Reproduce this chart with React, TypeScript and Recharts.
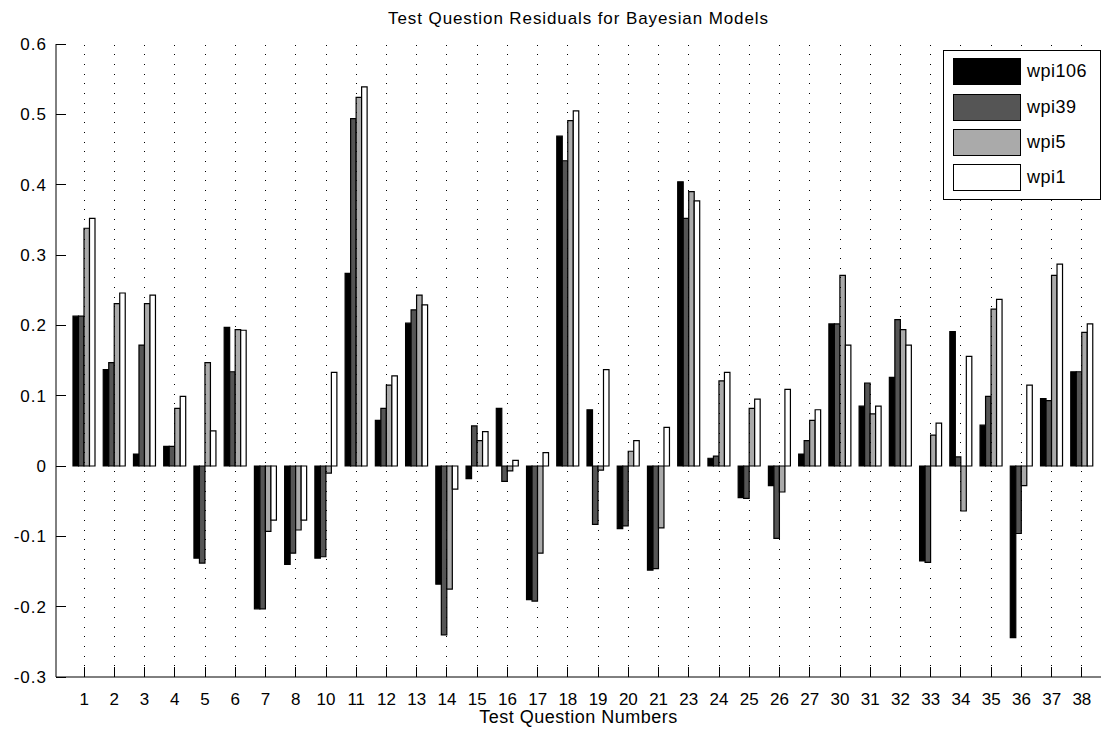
import { BarChart, Bar, XAxis, YAxis, Legend } from 'recharts';

const categories = ['1', '2', '3', '4', '5', '6', '7', '8', '10', '11', '12', '13', '14', '15', '16', '17', '18', '19', '20', '21', '23', '24', '25', '26', '27', '30', '31', '32', '33', '34', '35', '36', '37', '38'];

const wpi106 = [0.213, 0.137, 0.017, 0.028, -0.131, 0.197, -0.203, -0.140, -0.131, 0.274, 0.065, 0.203, -0.168, -0.018, 0.082, -0.190, 0.469, 0.080, -0.089, -0.148, 0.404, 0.011, -0.045, -0.028, 0.017, 0.202, 0.085, 0.126, -0.135, 0.191, 0.058, -0.244, 0.096, 0.134];
const wpi39 = [0.213, 0.147, 0.172, 0.028, -0.138, 0.134, -0.203, -0.124, -0.129, 0.494, 0.082, 0.222, -0.240, 0.057, -0.022, -0.192, 0.434, -0.083, -0.085, -0.146, 0.352, 0.014, -0.046, -0.103, 0.036, 0.202, 0.118, 0.208, -0.137, 0.013, 0.099, -0.096, 0.093, 0.134];
const wpi5 = [0.338, 0.231, 0.231, 0.082, 0.147, 0.194, -0.093, -0.091, -0.010, 0.524, 0.115, 0.243, -0.175, 0.036, -0.007, -0.124, 0.491, -0.006, 0.021, -0.088, 0.390, 0.121, 0.082, -0.037, 0.065, 0.271, 0.074, 0.194, 0.044, -0.064, 0.223, -0.028, 0.271, 0.190];
const wpi1 = [0.352, 0.246, 0.243, 0.099, 0.050, 0.193, -0.077, -0.077, 0.133, 0.539, 0.128, 0.229, -0.033, 0.049, 0.008, 0.019, 0.505, 0.137, 0.036, 0.055, 0.377, 0.133, 0.095, 0.109, 0.080, 0.172, 0.085, 0.172, 0.061, 0.156, 0.237, 0.115, 0.287, 0.202];

const yTicks = [-0.3, -0.2, -0.1, 0, 0.1, 0.2, 0.3, 0.4, 0.5, 0.6];

const series = [
  { key: 'wpi106', fill: '#000000' },
  { key: 'wpi39', fill: '#555555' },
  { key: 'wpi5', fill: '#aaaaaa' },
  { key: 'wpi1', fill: '#ffffff' },
];

const data = categories.map((q, i) => ({
  q,
  wpi106: wpi106[i],
  wpi39: wpi39[i],
  wpi5: wpi5[i],
  wpi1: wpi1[i],
}));

const FONT = '"Liberation Sans", Arial, Helvetica, sans-serif';
const W = 1106;
const H = 734;
const TOP = 44;
const XAXIS_H = 57;
const PLOT_H = H - TOP - XAXIS_H;
const TICK_LEN = 10;
const X_MARGIN = 16;
const Y_MARGIN = 9;

const fmt = (v: number) => (v === 0 ? '0' : v.toFixed(1));

// bottom tick: label, inward tick and the dotted vertical grid line
const BottomTick = ({ x, y, payload }: any) => {
  const axisY = y - X_MARGIN;
  return (
    <g>
      <line x1={x} x2={x} y1={axisY - 1} y2={axisY - PLOT_H} stroke="#000" strokeDasharray="1 8.7" shapeRendering="crispEdges" />
      <line x1={x} x2={x} y1={axisY} y2={axisY - TICK_LEN} stroke="#000" shapeRendering="crispEdges" />
      <text x={x} y={y} dy="0.72em" textAnchor="middle" fontSize={17} fill="#000">
        {payload.value}
      </text>
    </g>
  );
};

const TopTick = ({ x, y }: any) => (
  <line x1={x} x2={x} y1={y} y2={y + TICK_LEN} stroke="#000" shapeRendering="crispEdges" />
);

const LeftTick = ({ x, y, payload }: any) => (
  <g>
    <line x1={x + Y_MARGIN} x2={x + Y_MARGIN + TICK_LEN} y1={y} y2={y} stroke="#000" shapeRendering="crispEdges" />
    <text x={x} y={y} dy="0.36em" textAnchor="end" fontSize={17} letterSpacing={1} fill="#000">
      {fmt(payload.value)}
    </text>
  </g>
);

const RightTick = ({ x, y }: any) => (
  <line x1={x} x2={x - TICK_LEN} y1={y} y2={y} stroke="#000" shapeRendering="crispEdges" />
);

// legend drawn in series order
const LegendBox = () => (
  <div
    style={{
      boxSizing: 'border-box',
      width: 158,
      height: 150,
      border: '1px solid #000',
      background: '#fff',
      paddingTop: 3,
      fontFamily: FONT,
    }}
  >
    {series.map((s) => (
      <div key={s.key} style={{ display: 'flex', alignItems: 'center', height: 35.4, marginLeft: 9 }}>
        <div style={{ boxSizing: 'border-box', width: 68, height: 27, border: '1px solid #000', background: s.fill }} />
        <span style={{ marginLeft: 6, fontSize: 18, letterSpacing: 0.5, color: '#000' }}>{s.key}</span>
      </div>
    ))}
  </div>
);

export default function App() {
  return (
    <div style={{ position: 'absolute', left: 0, top: 0, width: W, height: H, background: '#fff', fontFamily: FONT }}>
      <div
        style={{
          position: 'absolute',
          left: 56,
          top: 9,
          width: 1045,
          textAlign: 'center',
          fontSize: 17,
          letterSpacing: 0.9,
          lineHeight: '20px',
          color: '#000',
        }}
      >
        Test Question Residuals for Bayesian Models
      </div>
      <BarChart
        width={W}
        height={H}
        data={data}
        margin={{ top: TOP, right: 5, left: 0, bottom: 0 }}
        barCategoryGap={4}
        barGap={0}
        barSize={5.5}
        style={{ fontFamily: FONT }}
      >
        <XAxis
          dataKey="q"
          height={XAXIS_H}
          padding={{ left: 13, right: 4 }}
          axisLine={{ stroke: '#000' }}
          tickLine={false}
          tickSize={0}
          tickMargin={X_MARGIN}
          tick={<BottomTick />}
          interval={0}
          label={{ value: 'Test Question Numbers', position: 'insideBottom', offset: 11, fill: '#000', fontSize: 18, letterSpacing: 0.5 }}
        />
        <XAxis
          xAxisId="top"
          dataKey="q"
          orientation="top"
          height={0}
          padding={{ left: 13, right: 4 }}
          axisLine={{ stroke: '#000' }}
          tickLine={false}
          tickSize={0}
          tickMargin={0}
          tick={<TopTick />}
          interval={0}
        />
        <YAxis
          width={56}
          domain={[-0.3, 0.6]}
          ticks={yTicks}
          allowDataOverflow
          axisLine={{ stroke: '#000' }}
          tickLine={false}
          tickSize={0}
          tickMargin={Y_MARGIN}
          tick={<LeftTick />}
          interval={0}
        />
        <YAxis
          yAxisId="right"
          orientation="right"
          width={0}
          domain={[-0.3, 0.6]}
          ticks={yTicks}
          allowDataOverflow
          axisLine={{ stroke: '#000' }}
          tickLine={false}
          tickSize={0}
          tickMargin={0}
          tick={<RightTick />}
          interval={0}
        />
        <Legend
          layout="horizontal"
          verticalAlign="middle"
          align="center"
          content={<LegendBox />}
          wrapperStyle={{ position: 'absolute', left: 943, top: 50, width: 158, height: 150 }}
        />
        {series.map((s) => (
          <Bar key={s.key} dataKey={s.key} name={s.key} fill={s.fill} stroke="#000" strokeWidth={1.2} isAnimationActive={false} />
        ))}
      </BarChart>
    </div>
  );
}
